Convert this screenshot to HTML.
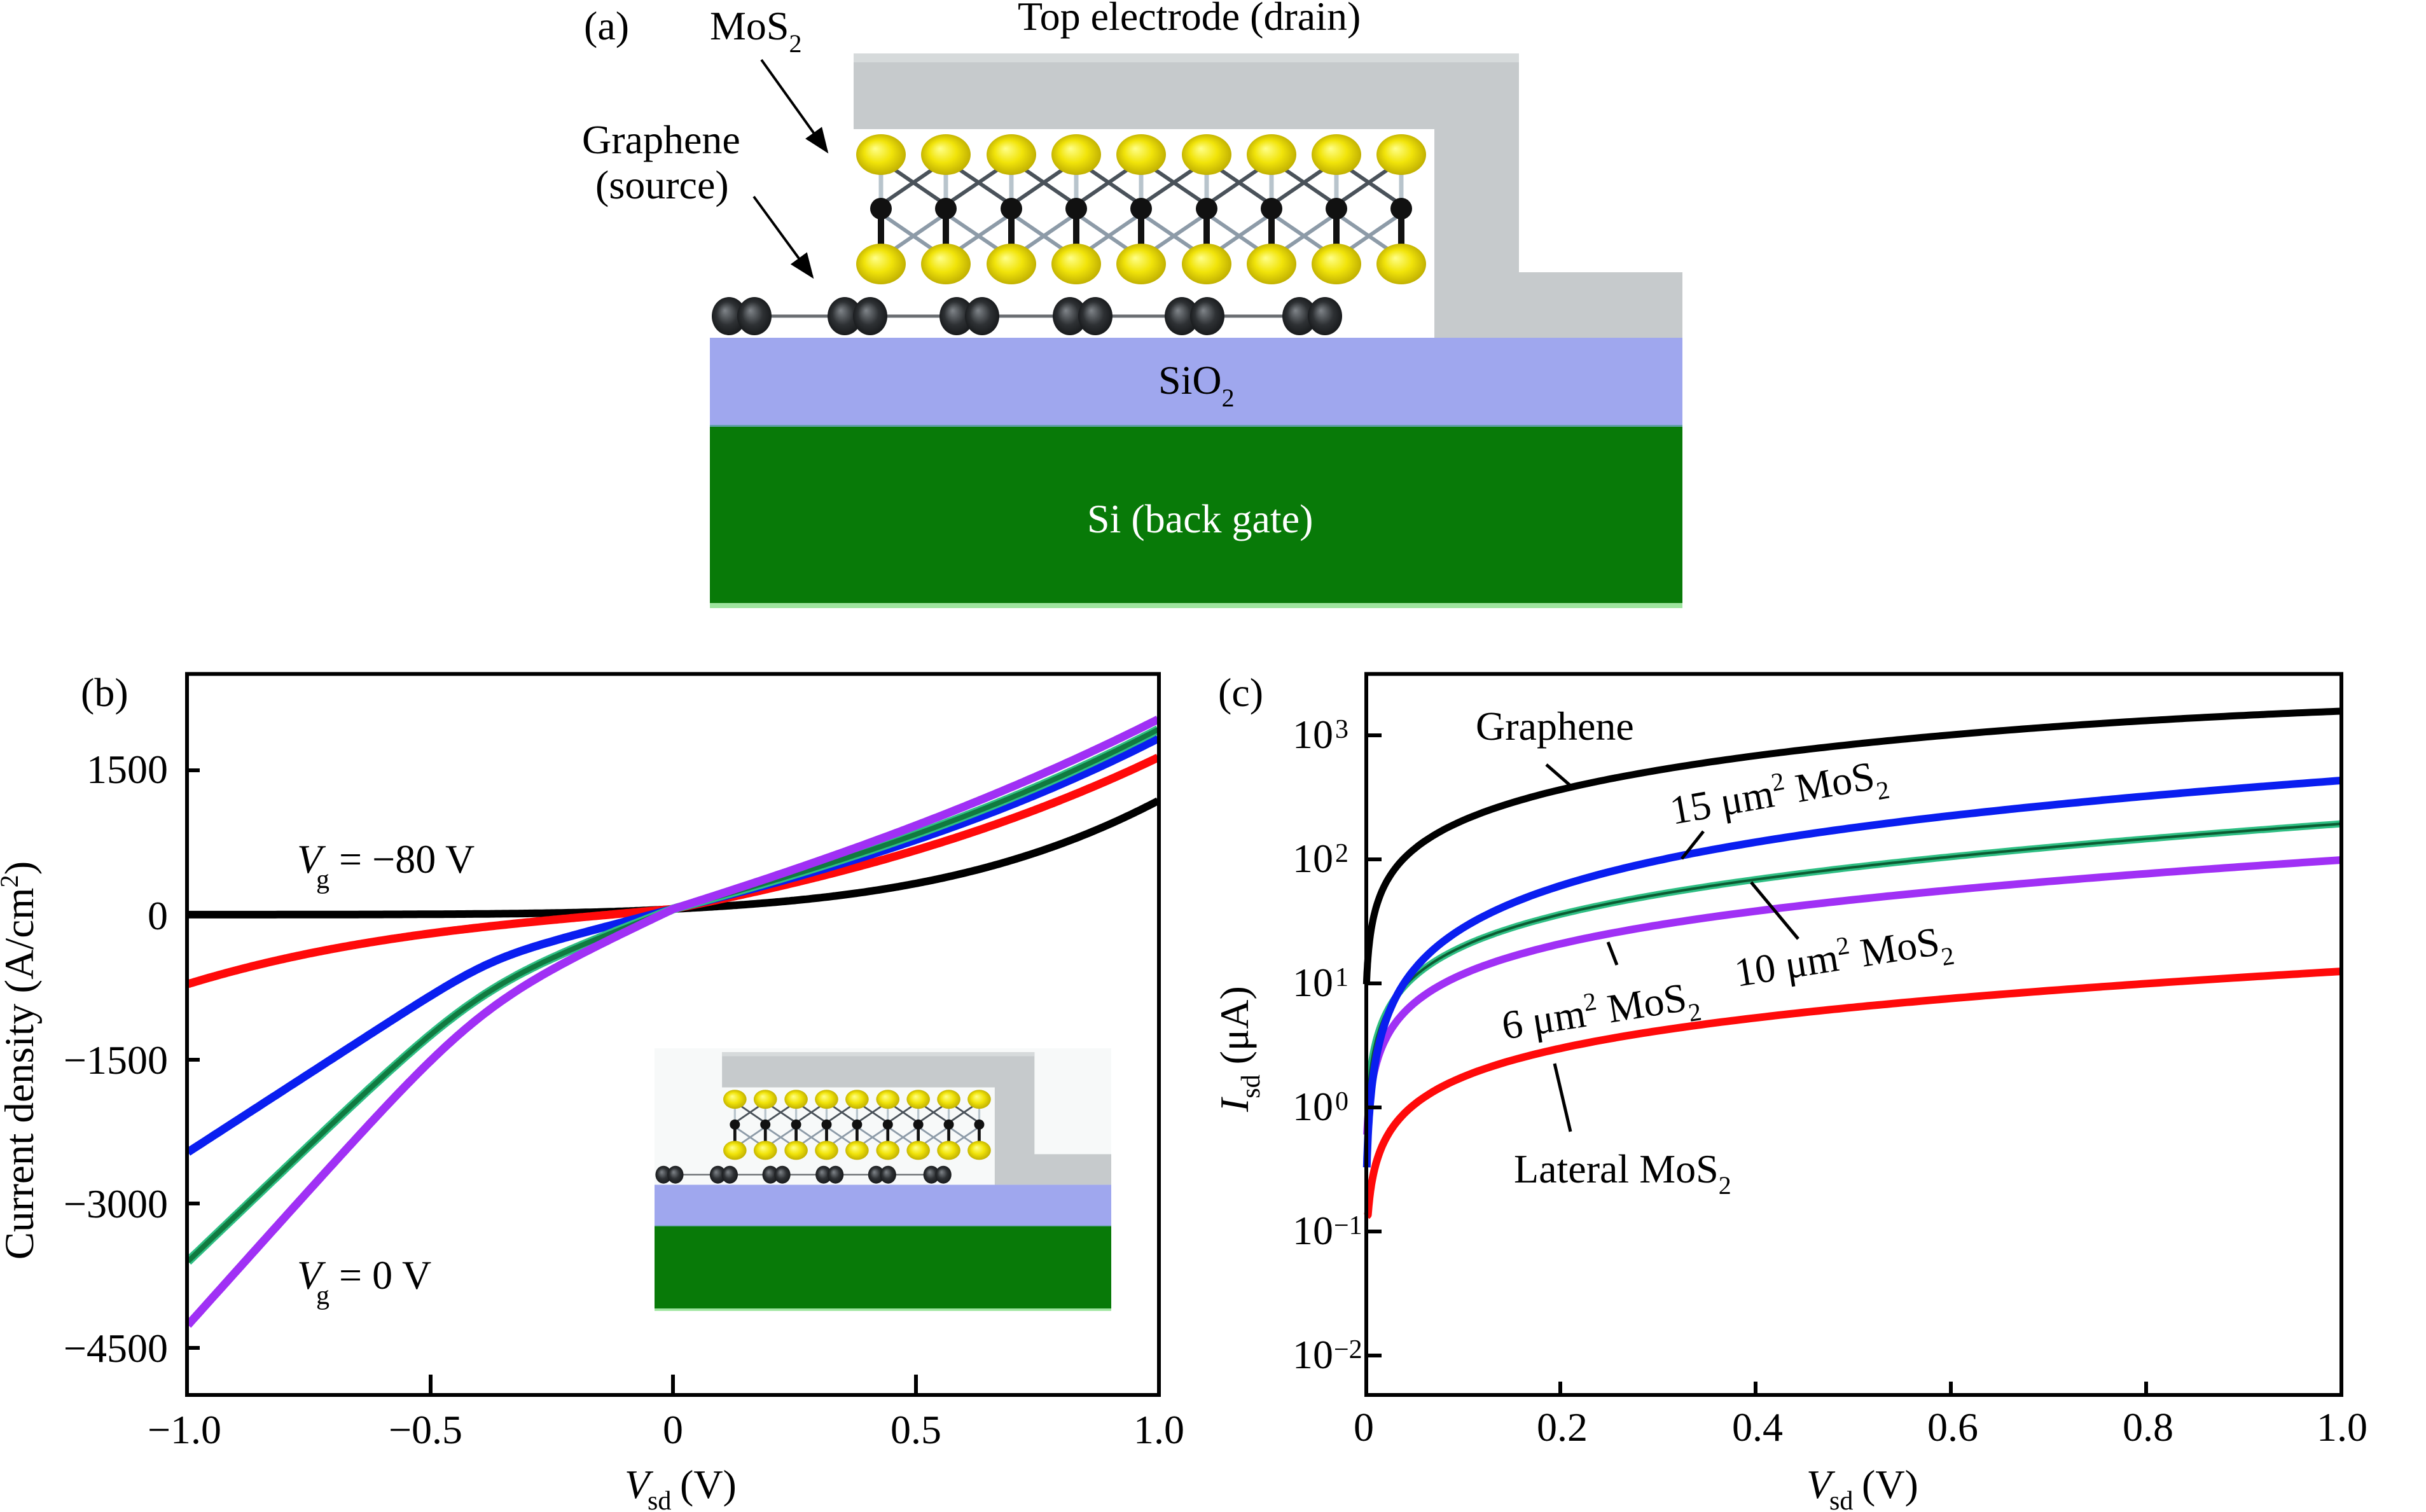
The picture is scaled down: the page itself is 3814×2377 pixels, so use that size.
<!DOCTYPE html>
<html><head><meta charset="utf-8"><style>
html,body{margin:0;padding:0;background:#fff;}
svg{display:block;}
text{font-family:"Liberation Serif","DejaVu Serif",serif;fill:#000;}
</style></head><body>
<svg id="fig" xmlns="http://www.w3.org/2000/svg" xmlns:xlink="http://www.w3.org/1999/xlink" width="3814" height="2377" viewBox="0 0 3814 2377">
<defs>
<radialGradient id="ys" cx="50%" cy="50%" r="55%" fx="38%" fy="35%">
<stop offset="0" stop-color="#ffff8a"/><stop offset="0.5" stop-color="#f1e40a"/><stop offset="1" stop-color="#b9a800"/>
</radialGradient>
<radialGradient id="gc" cx="50%" cy="50%" r="55%" fx="38%" fy="35%">
<stop offset="0" stop-color="#80858a"/><stop offset="0.55" stop-color="#2e3134"/><stop offset="1" stop-color="#141618"/>
</radialGradient>
<g id="dev">
<polygon points="1342,84 2388,84 2388,428 2645,428 2645,531 2255,531 2255,203 1342,203" fill="#c6cacc"/>
<rect x="1342" y="84" width="1046" height="14" fill="#d6dadb"/>
<g stroke-width="6" fill="none">
<path stroke="#4a525a" d="M1385,252L1487,322M1487,252L1385,322M1487,252L1590,322M1590,252L1487,322M1590,252L1692,322M1692,252L1590,322M1692,252L1794,322M1794,252L1692,322M1794,252L1897,322M1897,252L1794,322M1897,252L1999,322M1999,252L1897,322M1999,252L2101,322M2101,252L1999,322M2101,252L2203,322M2203,252L2101,322"/>
<path stroke="#8d9ba8" d="M1385,336L1487,406M1487,336L1385,406M1487,336L1590,406M1590,336L1487,406M1590,336L1692,406M1692,336L1590,406M1692,336L1794,406M1794,336L1692,406M1794,336L1897,406M1897,336L1794,406M1897,336L1999,406M1999,336L1897,406M1999,336L2101,406M2101,336L1999,406M2101,336L2203,406M2203,336L2101,406"/>
<path stroke="#b8c4cc" stroke-width="7" d="M1385,250V326M1487,250V326M1590,250V326M1692,250V326M1794,250V326M1897,250V326M1999,250V326M2101,250V326M2203,250V326"/>
<path stroke="#111" stroke-width="10" d="M1385,328V400M1487,328V400M1590,328V400M1692,328V400M1794,328V400M1897,328V400M1999,328V400M2101,328V400M2203,328V400"/>
</g>
<g fill="#111">
<circle cx="1385" cy="328" r="17"/><circle cx="1487" cy="328" r="17"/><circle cx="1590" cy="328" r="17"/><circle cx="1692" cy="328" r="17"/><circle cx="1794" cy="328" r="17"/><circle cx="1897" cy="328" r="17"/><circle cx="1999" cy="328" r="17"/><circle cx="2101" cy="328" r="17"/><circle cx="2203" cy="328" r="17"/>
</g>
<g fill="url(#ys)">
<ellipse cx="1385" cy="243" rx="39" ry="32"/><ellipse cx="1487" cy="243" rx="39" ry="32"/><ellipse cx="1590" cy="243" rx="39" ry="32"/><ellipse cx="1692" cy="243" rx="39" ry="32"/><ellipse cx="1794" cy="243" rx="39" ry="32"/><ellipse cx="1897" cy="243" rx="39" ry="32"/><ellipse cx="1999" cy="243" rx="39" ry="32"/><ellipse cx="2101" cy="243" rx="39" ry="32"/><ellipse cx="2203" cy="243" rx="39" ry="32"/>
<ellipse cx="1385" cy="415" rx="39" ry="32"/><ellipse cx="1487" cy="415" rx="39" ry="32"/><ellipse cx="1590" cy="415" rx="39" ry="32"/><ellipse cx="1692" cy="415" rx="39" ry="32"/><ellipse cx="1794" cy="415" rx="39" ry="32"/><ellipse cx="1897" cy="415" rx="39" ry="32"/><ellipse cx="1999" cy="415" rx="39" ry="32"/><ellipse cx="2101" cy="415" rx="39" ry="32"/><ellipse cx="2203" cy="415" rx="39" ry="32"/>
</g>
<line x1="1125" y1="497" x2="2080" y2="497" stroke="#6a6e72" stroke-width="5"/>
<g fill="url(#gc)">
<ellipse cx="1146" cy="497" rx="27" ry="30"/><ellipse cx="1186" cy="497" rx="27" ry="30"/>
<ellipse cx="1328" cy="497" rx="27" ry="30"/><ellipse cx="1368" cy="497" rx="27" ry="30"/>
<ellipse cx="1504" cy="497" rx="27" ry="30"/><ellipse cx="1544" cy="497" rx="27" ry="30"/>
<ellipse cx="1682" cy="497" rx="27" ry="30"/><ellipse cx="1722" cy="497" rx="27" ry="30"/>
<ellipse cx="1858" cy="497" rx="27" ry="30"/><ellipse cx="1898" cy="497" rx="27" ry="30"/>
<ellipse cx="2043" cy="497" rx="27" ry="30"/><ellipse cx="2083" cy="497" rx="27" ry="30"/>
</g>
<rect x="1116" y="531" width="1529" height="139" fill="#9fa7ee"/>
<rect x="1116" y="668" width="1529" height="3" fill="#5f9fa8"/>
<rect x="1116" y="671" width="1529" height="277" fill="#087a08"/>
<rect x="1116" y="948" width="1529" height="8" fill="#9ee59e"/>
</g>
<marker id="ah" markerWidth="10" markerHeight="8" refX="9" refY="4" orient="auto" markerUnits="strokeWidth">
<path d="M0,0L10,4L0,8Z" fill="#000"/>
</marker>
</defs>

<!-- ===== Panel (a) ===== -->
<use xlink:href="#dev"/>
<text x="918" y="62" font-size="64">(a)</text>
<text x="1116" y="62" font-size="64">MoS<tspan font-size="40" dy="20">2</tspan></text>
<text x="1600" y="47" font-size="64">Top electrode (drain)</text>
<text x="915" y="241" font-size="64">Graphene</text>
<text x="936" y="312" font-size="64">(source)</text>
<line x1="1197" y1="94" x2="1300" y2="238" stroke="#000" stroke-width="4" marker-end="url(#ah)"/>
<line x1="1185" y1="309" x2="1277" y2="435" stroke="#000" stroke-width="4" marker-end="url(#ah)"/>
<text x="1821" y="619" font-size="64">SiO<tspan font-size="40" dy="20">2</tspan></text>
<text x="1709" y="837" font-size="64" style="fill:#fff">Si (back gate)</text>

<!-- ===== Panel (b) ===== -->
<rect x="1029" y="1648" width="718" height="411" fill="#f7f9f9"/>
<use xlink:href="#dev" transform="translate(1029,1654) scale(0.4696,0.4666) translate(-1116,-84)"/>

<g id="fbB" fill="none" stroke-linejoin="round" stroke-linecap="round">
<polyline stroke="#000" stroke-width="12" points="297,1439 600,1439 850,1438 950,1435 1057,1429 1150,1424 1250,1413 1388,1394 1500,1370 1591,1350 1659,1327 1726,1296 1818,1259"/>
<polyline stroke="#ff0a0a" stroke-width="13" points="297,1547 357,1530 408,1514 510,1491 612,1476 714,1463 780,1458 915,1445 1000,1436 1057,1429 1186,1404 1388,1357 1500,1317 1591,1283 1659,1256 1726,1228 1818,1191"/>
<polyline stroke="#0a1ef0" stroke-width="13" points="297,1818 357,1776 408,1745 510,1680 612,1612 714,1548 790,1503 850,1484 915,1467 1000,1446 1057,1429 1186,1398 1388,1343 1500,1302 1591,1266 1659,1236 1726,1204 1818,1161"/>
<polyline stroke="#117a40" stroke-width="13" points="297,1986 357,1929 408,1883 459,1836 510,1778 612,1682 714,1597 780,1545 850,1510 915,1485 1000,1451 1057,1429 1186,1394 1388,1337 1500,1290 1591,1252 1659,1222 1726,1190 1818,1147"/>
<polyline stroke="#a030f5" stroke-width="13" points="297,2082 357,2036 408,1992 459,1932 510,1860 612,1742 714,1642 800,1562 860,1528 915,1502 1000,1456 1057,1429 1186,1387 1388,1323 1500,1275 1591,1235 1659,1205 1726,1173 1818,1131"/>
</g>
<g id="curvesB" fill="none" stroke-linejoin="round"></g>

<rect x="294" y="1059.5" width="1528" height="1133.5" fill="none" stroke="#000" stroke-width="6"/>
<g stroke="#000" stroke-width="6">
<line x1="294" y1="1211" x2="314" y2="1211"/>
<line x1="294" y1="1439" x2="314" y2="1439"/>
<line x1="294" y1="1666" x2="314" y2="1666"/>
<line x1="294" y1="1892" x2="314" y2="1892"/>
<line x1="294" y1="2119" x2="314" y2="2119"/>
<line x1="677" y1="2193" x2="677" y2="2161"/>
<line x1="1058" y1="2193" x2="1058" y2="2161"/>
<line x1="1440" y1="2193" x2="1440" y2="2161"/>
</g>
<g font-size="64" text-anchor="end">
<text x="264" y="1231">1500</text>
<text x="264" y="1461">0</text>
<text x="264" y="1688">−1500</text>
<text x="264" y="1914">−3000</text>
<text x="264" y="2141">−4500</text>
</g>
<g font-size="64" text-anchor="middle">
<text x="290" y="2269">−1.0</text>
<text x="669" y="2269">−0.5</text>
<text x="1058" y="2269">0</text>
<text x="1440" y="2269">0.5</text>
<text x="1822" y="2269">1.0</text>
</g>
<text x="127" y="1110" font-size="64">(b)</text>
<text x="467" y="1372" font-size="64" font-style="italic">V</text>
<text x="497" y="1396" font-size="42">g</text>
<text x="533" y="1372" font-size="64">= −80 V</text>
<text x="467" y="2026" font-size="64" font-style="italic">V</text>
<text x="497" y="2050" font-size="42">g</text>
<text x="533" y="2026" font-size="64">= 0 V</text>
<text transform="translate(52,1667) rotate(-90)" font-size="65" text-anchor="middle">Current density (A/cm<tspan font-size="40" dy="-24">2</tspan><tspan dy="24">)</tspan></text>
<text x="982" y="2355" font-size="64" font-style="italic">V</text>
<text x="1018" y="2373" font-size="42">sd</text>
<text x="1069" y="2355" font-size="64">(V)</text>

<!-- ===== Panel (c) ===== -->
<g id="fbC" fill="none" stroke-linejoin="round" stroke-linecap="round">
<polyline stroke="#000" stroke-width="11" points="2150,1545 2152,1490 2156,1469 2162,1440 2169,1411 2178,1390 2188,1372 2213,1348 2237,1333 2285,1309 2334,1287 2382,1268 2431,1251 2479,1234 2528,1222 2625,1202 2722,1188 2819,1176 2900,1169 3017,1160 3133,1151 3250,1142 3366,1133 3483,1126 3600,1119 3679,1118"/>
<polyline stroke="#ff0a0a" stroke-width="12" points="2149,1908 2150,1880 2153,1852 2164,1823 2188,1784 2213,1760 2237,1740 2285,1711 2334,1688 2382,1675 2431,1663 2528,1643 2625,1624 2722,1607 2819,1593 2900,1585 3017,1573 3133,1561 3250,1550 3366,1540 3483,1533 3600,1525 3679,1527"/>
<polyline stroke="#a030f5" stroke-width="12" points="2149,1800 2151,1750 2159,1702 2169,1668 2179,1643 2196,1619 2213,1600 2237,1577 2285,1551 2334,1532 2382,1514 2431,1499 2528,1475 2625,1459 2722,1441 2819,1426 2900,1416 3017,1404 3133,1393 3250,1381 3366,1371 3483,1364 3600,1355 3679,1352"/>
<polyline stroke="#1a9a60" stroke-width="11" points="2150,1692 2156,1660 2164,1634 2176,1600 2188,1573 2213,1539 2237,1518 2285,1489 2334,1469 2382,1452 2431,1436 2528,1412 2625,1396 2722,1384 2819,1373 2900,1365 3017,1352 3133,1338 3250,1326 3366,1315 3483,1305 3600,1298 3679,1295"/>
<polyline stroke="#0a1ef0" stroke-width="12" points="2150,1847 2152,1760 2155,1726 2160,1685 2164,1655 2176,1615 2188,1587 2213,1547 2237,1515 2285,1470 2334,1441 2382,1420 2431,1404 2528,1377 2625,1353 2722,1330 2819,1314 2900,1303 3017,1290 3133,1273 3250,1260 3366,1247 3483,1237 3600,1227 3679,1227"/>
</g>
<g id="curvesC" fill="none" stroke-linejoin="round"></g>

<rect x="2148" y="1059.5" width="1533" height="1133.5" fill="none" stroke="#000" stroke-width="6"/>
<g stroke="#000" stroke-width="6">
<line x1="2148" y1="1156" x2="2172" y2="1156"/>
<line x1="2148" y1="1351" x2="2172" y2="1351"/>
<line x1="2148" y1="1546" x2="2172" y2="1546"/>
<line x1="2148" y1="1741" x2="2172" y2="1741"/>
<line x1="2148" y1="1936" x2="2172" y2="1936"/>
<line x1="2148" y1="2131" x2="2172" y2="2131"/>
<line x1="2453" y1="2193" x2="2453" y2="2172"/>
<line x1="2760" y1="2193" x2="2760" y2="2172"/>
<line x1="3067" y1="2193" x2="3067" y2="2172"/>
<line x1="3374" y1="2193" x2="3374" y2="2172"/>
</g>
<g font-size="64">
<text x="2096" y="1176" text-anchor="end">10</text><text x="2099" y="1160" font-size="42">3</text>
<text x="2096" y="1371" text-anchor="end">10</text><text x="2099" y="1355" font-size="42">2</text>
<text x="2096" y="1566" text-anchor="end">10</text><text x="2099" y="1550" font-size="42">1</text>
<text x="2096" y="1761" text-anchor="end">10</text><text x="2099" y="1745" font-size="42">0</text>
<text x="2096" y="1956" text-anchor="end">10</text><text x="2097" y="1940" font-size="42">−1</text>
<text x="2096" y="2151" text-anchor="end">10</text><text x="2097" y="2135" font-size="42">−2</text>
</g>
<g font-size="64" text-anchor="middle">
<text x="2144" y="2265">0</text>
<text x="2456" y="2265">0.2</text>
<text x="2763" y="2265">0.4</text>
<text x="3070" y="2265">0.6</text>
<text x="3377" y="2265">0.8</text>
<text x="3682" y="2265">1.0</text>
</g>
<text x="1915" y="1110" font-size="64">(c)</text>
<text transform="translate(1962,1748) rotate(-90)" font-size="64"><tspan font-style="italic">I</tspan><tspan font-size="42" dy="18">sd</tspan><tspan dy="-18"> (μA)</tspan></text>
<text x="2840" y="2355" font-size="64" font-style="italic">V</text>
<text x="2876" y="2373" font-size="42">sd</text>
<text x="2927" y="2355" font-size="64">(V)</text>

<text x="2320" y="1163" font-size="64">Graphene</text>
<text transform="translate(2630,1296) rotate(-10)" font-size="64">15 μm<tspan font-size="40" dy="-24">2</tspan><tspan dy="24"> MoS</tspan><tspan font-size="40" dy="18">2</tspan></text>
<text transform="translate(2731,1551) rotate(-9)" font-size="64">10 μm<tspan font-size="40" dy="-24">2</tspan><tspan dy="24"> MoS</tspan><tspan font-size="40" dy="18">2</tspan></text>
<text transform="translate(2365,1634) rotate(-9)" font-size="64">6 μm<tspan font-size="40" dy="-24">2</tspan><tspan dy="24"> MoS</tspan><tspan font-size="40" dy="18">2</tspan></text>
<text x="2380" y="1859" font-size="64">Lateral MoS<tspan font-size="40" dy="18">2</tspan></text>
<g stroke="#000" stroke-width="5">
<line x1="2431" y1="1202" x2="2470" y2="1236"/>
<line x1="2644" y1="1350" x2="2678" y2="1307"/>
<line x1="2753" y1="1387" x2="2827" y2="1476"/>
<line x1="2528" y1="1481" x2="2542" y2="1517"/>
<line x1="2444" y1="1672" x2="2469" y2="1779"/>
</g>
</svg>
<script>
(function(){
  var NS="http://www.w3.org/2000/svg";
  function addPath(g,pts,stroke,w){
    var d="M"+pts[0][0].toFixed(1)+","+pts[0][1].toFixed(1);
    for(var i=1;i<pts.length;i++){d+="L"+pts[i][0].toFixed(1)+","+pts[i][1].toFixed(1);}
    var e=document.createElementNS(NS,"path");
    e.setAttribute("d",d);e.setAttribute("stroke",stroke);e.setAttribute("stroke-width",w);
    e.setAttribute("fill","none");e.setAttribute("stroke-linejoin","round");e.setAttribute("stroke-linecap","butt");
    g.appendChild(e);
  }
  function sp(u,c,w){return w*Math.log(1+Math.exp((u-c)/w));}
  // Panel (b)
  function bpts(fp,fn){
    var a=[];
    for(var i=0;i<=400;i++){
      var V=-1+i*0.005;
      var y=(V>=0)?1429-fp(V):1429+fn(-V);
      a.push([1058+762.5*V,y]);
    }
    return a;
  }
  var gB=document.getElementById("curvesB");
  var black=bpts(function(V){return 40*V+30*V*V+100*V*V*V;},function(u){return 9*(1-Math.exp(-5*u));});
  var red=bpts(function(V){return 150*V+50*V*V+38*V*V*V;},function(u){return 70*u-20*u*u+68*u*u*u;});
  var blue=bpts(function(V){return 185*V+45*V*V+38*V*V*V;},function(u){return 200*u+294*sp(u,0.38,0.05);});
  var green=bpts(function(V){return 205*V+40*V*V+37*V*V*V;},function(u){return 290*u+440*sp(u,0.40,0.08);});
  var purple=bpts(function(V){return 240*V+30*V*V+28*V*V*V;},function(u){return 360*u+490*sp(u,0.40,0.08);});
  addPath(gB,black,"#000",12);
  addPath(gB,red,"#ff0a0a",13);
  addPath(gB,blue,"#0a1ef0",13);
  addPath(gB,green,"#2fbf84",14);
  addPath(gB,green,"#117a40",8);
  addPath(gB,purple,"#a030f5",13);
  // Panel (c)
  function cpts(f,V0,pre){
    var vs=[],V=V0;
    while(V<0.05){vs.push(V);V*=1.08;}
    for(var i=0;i<=190;i++){vs.push(0.05+i*0.005);}
    var a=pre?pre.slice():[];
    for(var j=0;j<vs.length;j++){var v=vs[j];a.push([2146+1535*v,1741-195*f(v)]);}
    return a;
  }
  function L(v){return Math.log(v)/Math.LN10;}
  var gC=document.getElementById("curvesC");
  addPath(gC,cpts(function(v){return 2.97+0.7*L(v)+0.45*v-0.225*v*v;},0.0015),"#000",11);
  addPath(gC,cpts(function(v){return 1.097+0.72*L(v)+0.147*(v-1);},0.003,[[2148.5,1912]]),"#ff0a0a",12);
  addPath(gC,cpts(function(v){return 1.995+0.75*L(v)+0.19*(v-1);},0.002),"#a030f5",12);
  var gr=cpts(function(v){return 2.287+0.78*L(v)+0.232*(v-1);},0.0035);
  addPath(gC,gr,"#2fbf84",11);
  addPath(gC,gr,"#0c5c32",4);
  addPath(gC,cpts(function(v){return 2.636+1.1*L(v)+0.1*(v-1);},0.0018),"#0a1ef0",12);
  var fb=["fbB","fbC"];
  for(var k=0;k<fb.length;k++){var n=document.getElementById(fb[k]);if(n&&n.parentNode){n.parentNode.removeChild(n);}}
})();
</script>
</body></html>
